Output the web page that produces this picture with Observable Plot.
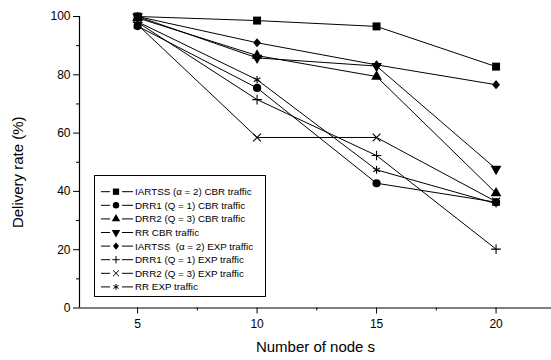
<!DOCTYPE html>
<html><head><meta charset="utf-8">
<script src="https://cdn.jsdelivr.net/npm/d3@7"></script>
<script src="https://cdn.jsdelivr.net/npm/@observablehq/plot@0.6"></script>
<style>
body{margin:0;background:#fff;font-family:"Liberation Sans",Arial,Helvetica,sans-serif;}
#wrap{position:relative;width:551px;height:360px;overflow:hidden;}
#legend{position:absolute;left:94px;top:175px;}
</style></head><body><div id="wrap"></div>
<script>
// x values: number of nodes
const nodes = [5, 10, 15, 20];
// series names (legend order)
const seriesNames = [
  "IARTSS (α = 2) CBR traffic",
  "DRR1 (Q = 1) CBR traffic",
  "DRR2 (Q = 3) CBR traffic",
  "RR CBR traffic",
  "IARTSS  (α = 2) EXP traffic",
  "DRR1 (Q = 1) EXP traffic",
  "DRR2 (Q = 3) EXP traffic",
  "RR EXP traffic"
];
// delivery rate (%) per series at 5, 10, 15, 20 nodes
const iartssCbr = [100, 98.6, 96.6, 82.8];
const drr1Cbr   = [96.7, 75.5, 42.8, 36.3];
const drr2Cbr   = [99.5, 86.6, 79.4, 39.4];
const rrCbr     = [100, 85.8, 83.0, 47.7];
const iartssExp = [100, 91.0, 83.4, 76.6];
const drr1Exp   = [98.0, 71.5, 52.3, 20.2];
const drr2Exp   = [97.2, 58.5, 58.5, 36.5];
const rrExp     = [98.2, 78.3, 47.4, 35.8];
const seriesValues = [iartssCbr, drr1Cbr, drr2Cbr, rrCbr, iartssExp, drr1Exp, drr2Exp, rrExp];
// axis ticks
const yTicks = [0, 20, 40, 60, 80, 100];
const yMinorTicks = [10, 30, 50, 70, 90];
const xTicks = [5, 10, 15, 20];
const xMinorTicks = [7.5, 12.5, 17.5];

const sqrt3 = Math.sqrt(3);
const triangleDown = {
  draw(context, size) {
    const y = -Math.sqrt(size / (sqrt3 * 3));
    context.moveTo(0, -y * 2);
    context.lineTo(-sqrt3 * y, y);
    context.lineTo(sqrt3 * y, y);
    context.closePath();
  }
};
const triangleUp = {
  draw(context, size) {
    const y = -Math.sqrt(size / (sqrt3 * 3));
    context.moveTo(0, y * 2);
    context.lineTo(-sqrt3 * y, -y);
    context.lineTo(sqrt3 * y, -y);
    context.closePath();
  }
};
const diamondShape = {
  draw(context, size) {
    const h = Math.sqrt(size / Math.PI);
    const w = h * 0.85;
    context.moveTo(0, -h);
    context.lineTo(w, 0);
    context.lineTo(0, h);
    context.lineTo(-w, 0);
    context.closePath();
  }
};
const symbols = [
  {symbol: d3.symbolSquare, r: 4.5, filled: true},
  {symbol: d3.symbolCircle, r: 4.1, filled: true},
  {symbol: triangleUp, r: 4.0, filled: true},
  {symbol: triangleDown, r: 4.0, filled: true},
  {symbol: diamondShape, r: 4.6, filled: true},
  {symbol: d3.symbolPlus, r: 3.2, filled: false},
  {symbol: d3.symbolTimes, r: 3.6, filled: false},
  {symbol: d3.symbolAsterisk, r: 3.6, filled: false}
];

const data = [];
seriesNames.forEach((name, i) => {
  nodes.forEach((n, j) => data.push({series: name, idx: i, nodes: n, rate: seriesValues[i][j]}));
});

const xDomain = [2.57, 22.32];
const marks = [];
// axis lines
marks.push(Plot.ruleX([xDomain[0]], {y1: 0, y2: 100, stroke: "black", strokeWidth: 1.2}));
marks.push(Plot.ruleY([0], {stroke: "black", strokeWidth: 1.2}));
marks.push(Plot.axisY(yTicks, {tickSize: 6, tickPadding: 3, label: "Delivery rate (%)", labelAnchor: "center", labelArrow: "none", labelOffset: 67}));
marks.push(Plot.axisY(yMinorTicks, {tickSize: 3, tickFormat: () => "", label: null}));
marks.push(Plot.axisX(xTicks, {tickSize: 6, tickPadding: 5, label: "Number of node s", labelAnchor: "center", labelArrow: "none", labelOffset: 44}));
marks.push(Plot.axisX(xMinorTicks, {tickSize: 3, tickFormat: () => "", label: null}));

seriesNames.forEach((name, i) => {
  const d = data.filter(e => e.idx === i);
  marks.push(Plot.line(d, {x: "nodes", y: "rate", stroke: "black", strokeWidth: 1}));
});
seriesNames.forEach((name, i) => {
  const d = data.filter(e => e.idx === i);
  const s = symbols[i];
  marks.push(Plot.dot(d, {
    x: "nodes", y: "rate", symbol: s.symbol, r: s.r,
    fill: s.filled ? "black" : "none",
    stroke: s.filled ? "none" : "black",
    strokeWidth: 1.1
  }));
});

const chart = Plot.plot({
  width: 551,
  height: 360,
  marginLeft: 79,
  marginRight: 0,
  marginTop: 16,
  marginBottom: 52.5,
  x: {domain: xDomain},
  y: {domain: [0, 100]},
  style: {fontFamily: "'Liberation Sans', Arial, sans-serif", fontSize: "12px", color: "black", background: "white"},
  marks
});
d3.select(chart).selectAll("g[aria-label='y-axis label'] text, g[aria-label='x-axis label'] text").style("font-size", "15px");
d3.select(chart).selectAll("g[aria-label='y-axis label']").attr("transform", function() {
  const t = this.getAttribute("transform") || "";
  return t + " translate(0,10)";
});
document.getElementById("wrap").appendChild(chart);

// legend
const lw = 172, lh = 122, rowH = 13.6;
const lsvg = d3.select("#wrap").append("svg")
  .attr("id", "legend").attr("width", lw + 1).attr("height", lh + 1);
lsvg.append("rect").attr("x", 0.5).attr("y", 0.5).attr("width", lw - 1).attr("height", lh - 1)
  .attr("fill", "white").attr("stroke", "black").attr("stroke-width", 1);
seriesNames.forEach((name, i) => {
  const cy = 16.7 + i * rowH;
  const g = lsvg.append("g").attr("transform", `translate(0,${cy})`);
  g.append("line").attr("x1", 7).attr("x2", 16).attr("y1", 0).attr("y2", 0).attr("stroke", "black");
  g.append("line").attr("x1", 28).attr("x2", 39).attr("y1", 0).attr("y2", 0).attr("stroke", "black");
  const s = symbols[i];
  g.append("path").attr("transform", "translate(22,0)")
    .attr("d", d3.symbol(s.symbol, Math.PI * s.r * s.r * 0.62)())
    .attr("fill", s.filled ? "black" : "none")
    .attr("stroke", s.filled ? "none" : "black");
  g.append("text").attr("x", 41).attr("y", 0).attr("dy", "0.35em")
    .attr("font-size", "9.8px").attr("font-family", "'Liberation Sans', Arial, sans-serif")
    .style("white-space", "pre")
    .text(name);
});
</script>
</body></html>
